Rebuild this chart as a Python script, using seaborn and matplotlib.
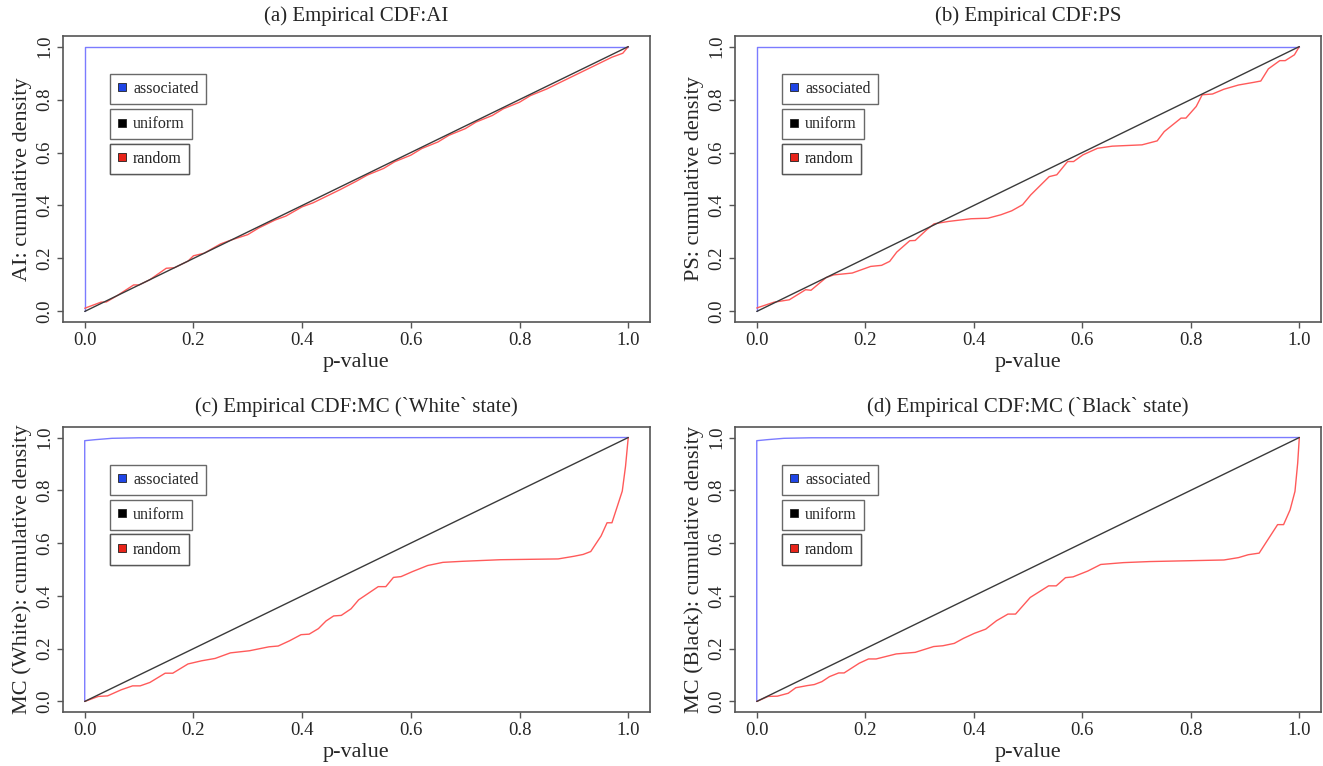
import matplotlib
matplotlib.use("Agg")
import matplotlib.pyplot as plt
import seaborn as sns
from matplotlib.lines import Line2D

sns.set_style("ticks")
plt.rcParams['font.family'] = ['Liberation Serif', 'DejaVu Serif']

# uniform reference line
uni_x = [0.0, 1.0]
uni_y = [0.0, 1.0]

# associated ECDF
assoc_ab_x = [0.0, 0.0, 1.0]
assoc_ab_y = [0.0, 1.0, 1.0]
assoc_cd_x = [0.0, 0.0, 0.02, 0.05, 0.1, 1.0]
assoc_cd_y = [0.0, 0.988, 0.992, 0.997, 0.999, 1.0]

# random ECDFs
rand_ai_x = [0, 0.03, 0.04, 0.06, 0.09, 0.1, 0.12, 0.15, 0.165, 0.19, 0.2, 0.22, 0.25, 0.27,
             0.3, 0.32, 0.35, 0.37, 0.4, 0.42, 0.45, 0.47, 0.5, 0.52, 0.55, 0.57, 0.6, 0.62,
             0.65, 0.67, 0.7, 0.72, 0.75, 0.77, 0.8, 0.82, 0.85, 0.87, 0.9, 0.92, 0.95, 0.97,
             0.99, 1.0]
rand_ai_y = [0.012, 0.035, 0.036, 0.06, 0.1, 0.1, 0.12, 0.163, 0.165, 0.19, 0.21, 0.22, 0.255,
             0.27, 0.29, 0.315, 0.345, 0.36, 0.395, 0.41, 0.44, 0.46, 0.492, 0.515, 0.54, 0.565,
             0.59, 0.615, 0.64, 0.665, 0.69, 0.715, 0.74, 0.765, 0.79, 0.815, 0.84, 0.86, 0.89,
             0.91, 0.94, 0.96, 0.975, 1.0]

rand_ps_x = [0, 0.032, 0.06, 0.09, 0.10, 0.128, 0.142, 0.176, 0.21, 0.23, 0.245, 0.258, 0.282,
             0.292, 0.313, 0.327, 0.354, 0.395, 0.426, 0.45, 0.47, 0.49, 0.505, 0.539, 0.553,
             0.573, 0.584, 0.601, 0.628, 0.655, 0.71, 0.738, 0.751, 0.782, 0.791, 0.81, 0.821,
             0.84, 0.861, 0.888, 0.916, 0.929, 0.943, 0.964, 0.974, 0.991, 1.0]
rand_ps_y = [0.013, 0.035, 0.044, 0.082, 0.08, 0.128, 0.138, 0.145, 0.17, 0.174, 0.189, 0.224,
             0.267, 0.268, 0.308, 0.331, 0.34, 0.35, 0.352, 0.365, 0.38, 0.403, 0.44, 0.509,
             0.516, 0.566, 0.566, 0.591, 0.616, 0.624, 0.629, 0.644, 0.679, 0.73, 0.73, 0.774,
             0.818, 0.821, 0.839, 0.855, 0.865, 0.87, 0.916, 0.947, 0.947, 0.969, 1.0]

rand_mcw_x = [0, 0.025, 0.042, 0.067, 0.088, 0.102, 0.12, 0.148, 0.162, 0.19, 0.215, 0.24, 0.268,
              0.303, 0.339, 0.356, 0.377, 0.398, 0.413, 0.43, 0.444, 0.458, 0.472, 0.49, 0.504,
              0.54, 0.554, 0.568, 0.582, 0.603, 0.631, 0.659, 0.695, 0.765, 0.871, 0.9, 0.917,
              0.931, 0.95, 0.961, 0.97, 0.98, 0.989, 0.995, 1.0]
rand_mcw_y = [0, 0.019, 0.021, 0.044, 0.059, 0.059, 0.072, 0.107, 0.107, 0.142, 0.154, 0.163,
              0.184, 0.192, 0.207, 0.21, 0.23, 0.253, 0.255, 0.276, 0.305, 0.324, 0.326, 0.351,
              0.385, 0.435, 0.435, 0.47, 0.473, 0.492, 0.515, 0.527, 0.531, 0.537, 0.54, 0.55,
              0.557, 0.568, 0.627, 0.677, 0.677, 0.74, 0.797, 0.891, 1.0]

rand_mcb_x = [0, 0.021, 0.038, 0.058, 0.072, 0.093, 0.106, 0.12, 0.134, 0.151, 0.161, 0.189,
              0.206, 0.22, 0.257, 0.292, 0.326, 0.343, 0.364, 0.381, 0.401, 0.422, 0.442, 0.463,
              0.477, 0.504, 0.538, 0.552, 0.569, 0.583, 0.61, 0.634, 0.676, 0.724, 0.861, 0.888,
              0.906, 0.926, 0.943, 0.96, 0.971, 0.983, 0.992, 0.997, 1.0]
rand_mcb_y = [0, 0.019, 0.02, 0.031, 0.052, 0.06, 0.064, 0.075, 0.094, 0.108, 0.108, 0.145,
              0.161, 0.161, 0.18, 0.186, 0.208, 0.211, 0.22, 0.239, 0.258, 0.274, 0.306, 0.331,
              0.331, 0.394, 0.438, 0.438, 0.469, 0.472, 0.494, 0.519, 0.526, 0.53, 0.536, 0.545,
              0.556, 0.562, 0.616, 0.67, 0.67, 0.726, 0.796, 0.903, 1.0]

titles = ["(a) Empirical CDF:AI", "(b) Empirical CDF:PS",
          "(c) Empirical CDF:MC (`White` state)", "(d) Empirical CDF:MC (`Black` state)"]
ylabels = ["AI: cumulative density", "PS: cumulative density",
           "MC (White): cumulative density", "MC (Black): cumulative density"]
legend_names = ["associated", "uniform", "random"]
legend_colors = ["#1f45e6", "#000000", "#e8241a"]

panels = [
    (assoc_ab_x, assoc_ab_y, rand_ai_x, rand_ai_y),
    (assoc_ab_x, assoc_ab_y, rand_ps_x, rand_ps_y),
    (assoc_cd_x, assoc_cd_y, rand_mcw_x, rand_mcw_y),
    (assoc_cd_x, assoc_cd_y, rand_mcb_x, rand_mcb_y),
]

positions = [
    [0.0476, 0.5796, 0.4437, 0.3734],
    [0.5556, 0.5796, 0.4429, 0.3734],
    [0.0476, 0.0705, 0.4437, 0.3721],
    [0.5556, 0.0705, 0.4429, 0.3721],
]

fig = plt.figure(figsize=(13.23, 7.66), dpi=100)
ticks = [0.0, 0.2, 0.4, 0.6, 0.8, 1.0]
edge = "#555555"

for i, (ax_x, ax_y, rx, ry) in enumerate(panels):
    ax = fig.add_axes(positions[i])
    sns.lineplot(x=ax_x, y=ax_y, ax=ax, color="#7b7bff", lw=1.0, sort=False, estimator=None)
    sns.lineplot(x=rx, y=ry, ax=ax, color="#ff5a5a", lw=1.0, sort=False, estimator=None)
    sns.lineplot(x=uni_x, y=uni_y, ax=ax, color="#3a3a3a", lw=1.0, sort=False, estimator=None)
    ax.set_xlim(-0.04, 1.04)
    ax.set_ylim(-0.04, 1.04)
    ax.set_xticks(ticks)
    ax.set_yticks(ticks)
    ax.set_xticklabels([f"{t:.1f}" for t in ticks], fontsize=13.5)
    ax.set_yticklabels([f"{t:.1f}" for t in ticks], fontsize=13.5, rotation=90, va="center")
    ax.tick_params(direction="out", length=4, width=1, color=edge, pad=3)
    for s in ax.spines.values():
        s.set_visible(True)
        s.set_color(edge)
        s.set_linewidth(1.2)
    ax.set_title(titles[i], fontsize=15, pad=11)
    ax.set_xlabel("p-value", fontsize=16, labelpad=3)
    ax.set_ylabel(ylabels[i], fontsize=16, labelpad=3)

    # three separate legend boxes, one per series
    tops = [0.868, 0.745, 0.623]
    for name, col, top in zip(legend_names, legend_colors, tops):
        h = Line2D([], [], marker="s", linestyle="", markersize=5.5,
                   markerfacecolor=col, markeredgecolor="#222222", markeredgewidth=0.6)
        leg = ax.legend([h], [name], loc="upper left", bbox_to_anchor=(0.08, top),
                        fontsize=11.5, frameon=True, fancybox=False, handlelength=0.6,
                        handletextpad=0.4, borderpad=0.45, borderaxespad=0)
        leg.get_frame().set_edgecolor("#444444")
        leg.get_frame().set_linewidth(1.0)
        ax.add_artist(leg)

fig.savefig("out.png", dpi=100)
